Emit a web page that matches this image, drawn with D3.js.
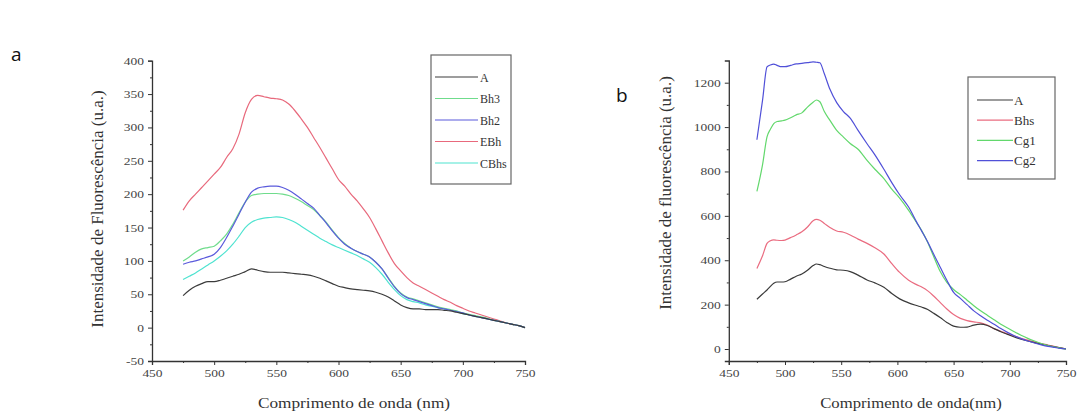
<!DOCTYPE html>
<html><head><meta charset="utf-8">
<script src="https://cdn.jsdelivr.net/npm/d3@7"></script>
<style>body{margin:0;background:#fff}svg{display:block}
svg text.serif{font-family:"Liberation Serif","Times New Roman",serif}
</style>
</head><body>
<svg id="c" width="1083" height="415"></svg>
<script>
// ---------- Chart a data ----------
const aWave = [475,480,485,490,495,500,505,510,515,520,525,530,535,540,545,550,555,560,565,570,575,580,585,590,595,600,605,610,615,620,625,630,635,640,645,650,655,660,665,670,675,680,685,690,695,700,705,710,715,720,725,730,735,740,745,750];
const aA    = [48,56,62,66,69,69,71,74,77,80,84,88,86,84,83,83,83,82,81,80,79,77,74,70,66,62,60,58,57,56,55,53,50,46,40,34,30,28,28,27,27,27,26,25,23,21,19,17,15,13,11,9,7,5,3,0];
const aBh3  = [100,106,113,118,120,122,130,140,155,172,188,198,200,201,201,201,200,198,194,189,183,177,168,158,146,135,126,119,114,110,106,98,88,75,62,52,46,43,40,37,34,31,29,27,25,22,20,18,16,14,11,9,7,5,3,0];
const aBh2  = [95,98,100,103,106,110,120,135,152,170,188,203,209,211,212,212,210,206,200,193,186,179,168,157,145,134,125,119,114,110,106,98,88,74,61,51,45,42,39,36,33,30,28,26,24,22,19,17,15,13,11,9,7,5,3,0];
const aEBh  = [176,190,200,210,220,230,240,255,268,290,322,342,348,346,344,343,341,335,325,313,300,285,270,254,238,222,212,200,190,178,165,148,130,112,96,85,75,67,62,57,52,47,42,38,33,29,25,22,19,16,13,10,7,5,3,0];
const aCBhs = [72,77,82,88,94,100,107,115,125,137,150,158,162,164,165,166,165,162,158,152,146,140,134,129,124,120,116,112,108,103,98,90,80,68,57,48,42,39,37,34,32,30,28,26,24,21,19,17,15,13,11,9,7,5,3,0];
const aNames  = ["A","Bh3","Bh2","EBh","CBhs"];
const aColors = ["#3c3c3c","#6fdc8c","#5b5bdc","#e8697c","#4fe3d0"];
const aXTicks = [450,500,550,600,650,700,750];
const aYTicks = [-50,0,50,100,150,200,250,300,350,400];

// ---------- Chart b data ----------
const bWave = [475,480,484,487,490,493,497,500,505,510,515,520,525,528,531,535,540,546,552,558,565,573,580,588,595,602,610,617,622,627,632,638,644,650,656,662,668,674,680,686,692,698,704,710,716,722,728,734,740,745,750];
const bA    = [224,248,266,282,296,302,302,303,315,328,338,355,376,383,380,372,364,357,355,349,333,311,298,278,250,226,208,196,188,178,162,142,120,103,98,99,108,112,106,92,78,66,54,44,36,29,22,16,10,5,0];
const bBhs  = [363,420,476,488,492,490,489,491,502,514,528,550,578,584,580,566,548,532,526,514,495,476,456,428,385,345,310,290,278,262,240,210,180,155,138,128,122,118,108,92,80,68,58,48,40,32,24,18,11,5,0];
const bCg1  = [710,830,956,990,1016,1025,1028,1031,1042,1055,1064,1090,1112,1122,1114,1070,1030,985,955,926,900,850,810,768,720,680,625,570,530,480,420,350,300,268,245,220,195,172,152,132,112,95,78,62,48,36,25,16,9,4,0];
const bCg2  = [943,1120,1271,1280,1284,1278,1272,1272,1278,1285,1287,1290,1294,1292,1290,1240,1170,1110,1070,1040,985,925,875,810,750,695,640,573,528,482,430,370,310,255,228,200,172,150,130,112,92,75,60,47,36,27,19,12,7,3,0];
const bNames  = ["A","Bhs","Cg1","Cg2"];
const bColors = ["#3a3a3a","#ea6c80","#62d86c","#5050d8"];
const bXTicks = [450,500,550,600,650,700,750];
const bYTicks = [0,200,400,600,800,1000,1200];

const svg = d3.select("#c");
function stretch(sel, f){
  sel.each(function(){
    const l = this.getComputedTextLength();
    d3.select(this).attr("textLength", l*f).attr("lengthAdjust","spacingAndGlyphs");
  });
}
const fmt = d => String(d);

function panel(cfg){
  const g = svg.append("g");
  const x = d3.scaleLinear().domain(cfg.xDom).range(cfg.xRange);
  const y = d3.scaleLinear().domain(cfg.yDom).range(cfg.yRange);
  const axisCol = "#333";
  g.append("g").attr("transform",`translate(0,${cfg.yRange[0]})`)
    .call(d3.axisBottom(x).tickValues(cfg.xTicks).tickSize(4).tickPadding(4).tickFormat(fmt));
  const xMinor = cfg.xTicks.slice(0,-1).map((t,i)=> (t+cfg.xTicks[i+1])/2);
  g.append("g").attr("transform",`translate(0,${cfg.yRange[0]})`)
    .call(d3.axisBottom(x).tickValues(xMinor).tickSize(2).tickFormat(""))
    .select(".domain").remove();
  g.append("g").attr("transform",`translate(${cfg.xRange[0]},0)`)
    .call(d3.axisLeft(y).tickValues(cfg.yTicks).tickSize(4).tickPadding(4).tickFormat(fmt));
  const yMinor = cfg.yTicks.slice(0,-1).map((t,i)=> (t+cfg.yTicks[i+1])/2);
  g.append("g").attr("transform",`translate(${cfg.xRange[0]},0)`)
    .call(d3.axisLeft(y).tickValues(yMinor).tickSize(2).tickFormat(""))
    .select(".domain").remove();
  g.selectAll("g").attr("font-family",null);
  g.selectAll(".domain").attr("stroke",axisCol).attr("stroke-width",1.3);
  g.selectAll(".tick line").attr("stroke",axisCol).attr("stroke-width",1);
  const tt = g.selectAll(".tick text").attr("class","serif").attr("font-size",cfg.tickFs).attr("fill","#444");
  stretch(tt, 1.25);

  const line = d3.line().x((d,i)=>x(cfg.wave[i])).y(d=>y(d)).curve(d3.curveMonotoneX);
  cfg.order.forEach(k=>{
    g.append("path").datum(cfg.series[k]).attr("d",line)
      .attr("fill","none").attr("stroke",cfg.colors[k]).attr("stroke-width",1.2);
  });

  const xt = g.append("text").attr("class","serif").attr("x",cfg.xt[0]).attr("y",cfg.xt[1]).attr("text-anchor","middle")
    .attr("font-size",cfg.xTitleFs).attr("fill","#333").text(cfg.xTitle);
  stretch(xt, 1.15);
  g.append("text").attr("class","serif").attr("transform",`translate(${cfg.yt[0]},${cfg.yt[1]}) rotate(-90)`).attr("text-anchor","middle")
    .attr("font-size",cfg.yTitleFs).attr("fill","#333").text(cfg.yTitle);

  const L = cfg.legend;
  g.append("rect").attr("x",L.x).attr("y",L.y).attr("width",L.w).attr("height",L.h)
    .attr("fill","none").attr("stroke","#666").attr("stroke-width",1.2);
  cfg.names.forEach((n,i)=>{
    const yy = L.y0 + i*L.dy;
    g.append("line").attr("x1",L.sx1).attr("x2",L.sx2).attr("y1",yy).attr("y2",yy)
      .attr("stroke",cfg.colors[i]).attr("stroke-width",1.2);
    g.append("text").attr("class","serif").attr("x",L.tx).attr("y",yy+4.5).attr("font-size",L.fs)
      .attr("fill","#333").text(n);
  });
  g.append("text").attr("x",cfg.letter[0]).attr("y",cfg.letter[1]).attr("font-family","'Open Sans','Liberation Sans',sans-serif")
    .attr("font-size",19).attr("fill","#111").text(cfg.letter[2]);
}

panel({
  xDom:[450,750], xRange:[152,525], yDom:[-50,400], yRange:[361,60.7],
  xTicks:aXTicks, yTicks:aYTicks, wave:aWave,
  series:[aA,aBh3,aBh2,aEBh,aCBhs], colors:aColors, names:aNames, order:[3,4,1,2,0],
  tickFs:10.8, xTitleFs:15, yTitleFs:17,
  xTitle:"Comprimento de onda (nm)", xt:[354,408],
  yTitle:"Intensidade de Fluorescência (u.a.)", yt:[103,209],
  legend:{x:431,y:55,w:80,h:129,y0:77,dy:21.5,sx1:435,sx2:478,tx:480,fs:12},
  letter:[11,61,"a"]
});
panel({
  xDom:[450,750], xRange:[728.8,1066], yDom:[-54,1300], yRange:[361,60.5],
  xTicks:bXTicks, yTicks:bYTicks, wave:bWave,
  series:[bA,bBhs,bCg1,bCg2], colors:bColors, names:bNames, order:[1,0,2,3],
  tickFs:10.8, xTitleFs:14.5, yTitleFs:17,
  xTitle:"Comprimento de onda(nm)", xt:[911,408],
  yTitle:"Intensidade de fluorescência (u.a.)", yt:[671,193],
  legend:{x:968,y:77,w:87,h:102,y0:100,dy:20.2,sx1:977,sx2:1013,tx:1014,fs:13},
  letter:[616,102,"b"]
});
</script>
</body></html>
